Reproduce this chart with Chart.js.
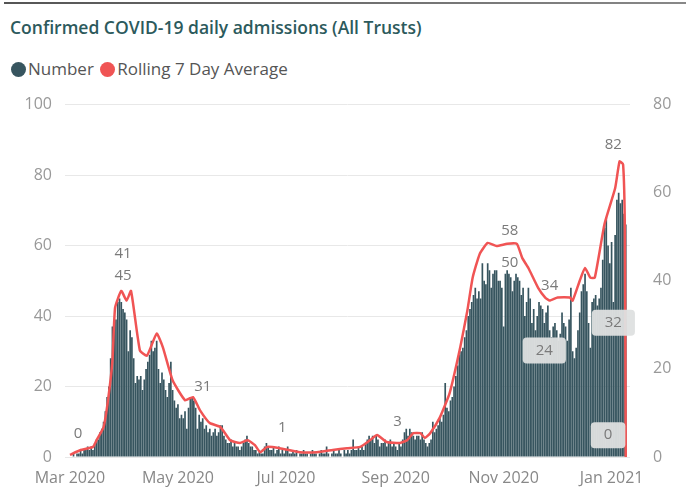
<!DOCTYPE html>
<html>
<head>
<meta charset="utf-8">
<script src="https://cdn.jsdelivr.net/npm/chart.js@4.4.1/dist/chart.umd.min.js"></script>
<style>
  html, body { margin: 0; padding: 0; background: #fff; }
  #card { position: relative; width: 686px; height: 500px; overflow: hidden; }
  #topline { position: absolute; left: 4px; right: 0; top: 2px; height: 2px; background: linear-gradient(90deg, #555, #888); }
  #title { position: absolute; left: 10px; top: 15px; font: 600 17.5px "Open Sans", sans-serif; color: #2c5a5c; white-space: nowrap; }
  #legend { position: absolute; left: 11px; top: 57px; font: 17px "Open Sans", sans-serif; color: #555; white-space: nowrap; }
  #legend span.dot { display: inline-block; width: 15px; height: 15px; border-radius: 50%; vertical-align: -2px; margin-right: 2px; }
  #chart { position: absolute; left: 0; top: 80px; }
</style>
</head>
<body>
<div id="card">
  <div id="topline"></div>
  <div id="title">Confirmed COVID-19 daily admissions (All Trusts)</div>
  <div id="legend"><span class="dot" style="background:#37555f"></span>Number <span class="dot" style="background:#f05454;margin-left:2px"></span>Rolling 7 Day Average</div>
  <canvas id="chart" width="686" height="420"></canvas>
</div>
<script>
// daily admissions from 1 Mar 2020 (index = day)
const numberDaily = [
  0,0,1,0,1,1,2,1,2,2,3,2,3,2,4,
  5,5,7,8,10,13,
  17,20,28,37,36,39,44,45,44,42,
  41,39,30,36,34,28,21,23,22,23,
  19,22,25,27,29,33,30,31,33,25,
  21,24,22,19,17,21,27,19,16,14,
  15,11,12,11,13,8,14,17,17,16,
  14,8,12,10,11,8,9,7,8,6,
  7,8,6,7,9,9,6,5,4,4,
  5,3,4,3,3,2,3,4,5,6,
  4,3,3,2,2,1,2,1,1,3,
  4,3,2,2,3,1,2,3,1,2,
  1,2,3,1,1,2,1,2,0,1,
  1,2,1,1,0,1,2,1,1,0,
  1,2,1,1,3,1,0,1,2,1,
  1,2,1,0,2,1,2,1,2,5,
  2,2,3,2,3,2,4,5,6,5,
  6,4,6,5,3,4,4,5,3,4,
  5,3,4,3,2,4,3,5,7,8,
  6,8,7,6,5,6,6,5,7,5,
  4,3,4,5,10,7,8,9,11,10,
  12,21,14,13,16,17,20,23,26,29,
  30,31,34,36,40,42,44,46,48,45,
  47,45,55,50,49,55,53,48,52,53,
  53,50,50,48,37,52,53,52,51,47,
  50,52,51,50,46,48,40,44,48,45,
  38,42,36,40,44,43,42,38,41,43,
  36,34,37,38,36,33,35,41,38,37,
  33,39,48,30,28,31,36,41,47,49,
  52,47,38,31,44,45,46,43,45,48,
  56,65,68,60,55,61,44,63,73,75,
  72,73,69,66,0
];

// rolling 7 day average, read at these days (right axis)
const avgDays = [0,6,13,15,19,21.5,24,25.5,29,32,34.5,39.5,43.5,49,52.5,58,65,69.5,73.5,79,85,90.5,96,100.5,104.5,107.5,111.5,118.5,130,139.5,148.5,156.5,164,169.5,173.5,179,186.5,190.5,194,198,200.5,203.5,209,214.5,220.5,224.5,227.5,231.5,236,241,247,252.5,255.5,259,264.5,268.5,271,275.5,282.5,284,288,291,294,296.5,302,308,310.5,312.5,313.5,314];
const avgValues = [0.5,1.6,2.3,3.8,6.8,12.9,21.9,33.9,37.7,35.5,37.7,24.2,23.0,28.0,24.9,17.4,12.9,13.6,10.6,7.7,6.8,3.8,3.2,3.8,2.7,1.1,2.3,2.0,1.1,1.1,1.6,2.0,2.3,3.8,5.0,3.4,3.2,3.8,5.4,5.4,4.3,5.4,9.0,14.5,24.9,33.2,40.7,46.1,48.6,47.9,48.4,48.4,45.2,42.9,38.4,36.2,35.5,36.2,36.2,35.5,40.0,42.9,40.7,40.7,52.9,61.0,67.1,66.4,51.3,0];

const tickDays = [0, 61, 122, 184, 245, 306];
const tickLabels = ['Mar 2020', 'May 2020', 'Jul 2020', 'Sep 2020', 'Nov 2020', 'Jan 2021'];

// data labels as shown on the chart (anchor in left-axis units)
const noteDays = [4.5, 30, 30, 75, 120, 185, 248.5, 248.5, 271, 268, 307, 304, 307];
const noteValues = [6.5, 57.6, 51.4, 19.8, 8.2, 9.9, 64.1, 55.1, 48.6, 30.2, 38.1, 6.2, 88.7];
const noteTexts = ['0', '41', '45', '31', '1', '3', '58', '50', '34', '24', '32', '0', '82'];
const noteBoxed = [false, false, false, false, false, false, false, false, false, true, true, true, false];

const teal = '#37555f';
const red = '#f05454';
const axisFont = { family: '"Open Sans", sans-serif', size: 16 };

const notesPlugin = {
  id: 'notes',
  afterDatasetsDraw(chart) {
    const { ctx, scales } = chart;
    ctx.save();
    ctx.font = '15px "Open Sans", sans-serif';
    ctx.textAlign = 'center';
    ctx.textBaseline = 'middle';
    noteDays.forEach((d, i) => {
      const x = scales.x.getPixelForValue(d);
      const y = scales.yLeft.getPixelForValue(noteValues[i]);
      const w = ctx.measureText(noteTexts[i]).width + 26;
      if (noteBoxed[i]) {
        ctx.fillStyle = 'rgba(222,224,224,0.95)';
        ctx.beginPath();
        ctx.roundRect(x - w / 2, y - 13, w, 26, 4);
        ctx.fill();
      }
      ctx.fillStyle = '#7a7a7a';
      ctx.fillText(noteTexts[i], x, y);
    });
    ctx.restore();
  }
};

new Chart(document.getElementById('chart'), {
  data: {
    datasets: [
      {
        type: 'line',
        label: 'Rolling 7 Day Average',
        data: avgDays.map((d, i) => ({ x: d, y: avgValues[i] })),
        yAxisID: 'yRight',
        borderColor: red,
        borderWidth: 2.5,
        pointRadius: 0,
        tension: 0.15,
        order: 0
      },
      {
        type: 'bar',
        label: 'Number',
        data: numberDaily.map((v, i) => ({ x: i, y: v })),
        yAxisID: 'yLeft',
        backgroundColor: teal,
        barPercentage: 1,
        categoryPercentage: 0.95,
        order: 1
      }
    ]
  },
  options: {
    responsive: false,
    animation: false,
    layout: { padding: { top: 4, left: 0, right: 0, bottom: 0 } },
    plugins: { legend: { display: false }, tooltip: { enabled: false } },
    scales: {
      x: {
        type: 'linear',
        offset: false,
        min: -2.8,
        max: 316.4,
        grid: { display: false },
        border: { display: false },
        afterBuildTicks: s => { s.ticks = tickDays.map(v => ({ value: v })); },
        ticks: {
          autoSkip: false,
          maxRotation: 0,
          padding: 4,
          color: '#888',
          font: axisFont,
          callback: v => tickLabels[tickDays.indexOf(v)]
        },
        afterFit: s => { s.height = 43; }
      },
      yLeft: {
        position: 'left',
        min: 0,
        max: 100,
        ticks: { stepSize: 20, padding: 13, color: '#999', font: axisFont },
        grid: { color: '#e8e8e8', drawTicks: false },
        border: { display: false },
        afterFit: s => { s.width = 65; }
      },
      yRight: {
        position: 'right',
        min: 0,
        max: 80,
        ticks: { stepSize: 20, padding: 15, color: '#999', font: axisFont },
        grid: { display: false },
        border: { display: false },
        afterFit: s => { s.width = 56; }
      }
    }
  },
  plugins: [notesPlugin]
});
</script>
</body>
</html>
